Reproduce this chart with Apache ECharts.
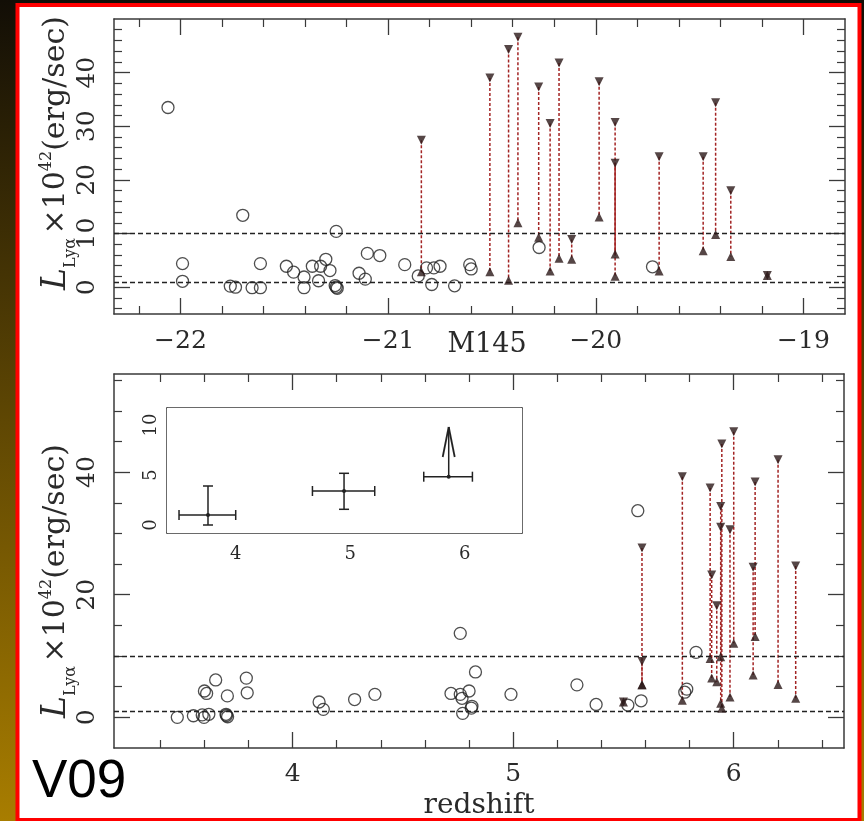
<!DOCTYPE html>
<html><head><meta charset="utf-8">
<script src="https://cdn.jsdelivr.net/npm/echarts@6/dist/echarts.min.js"></script>
<style>html,body{margin:0;padding:0;background:#000}#c{width:864px;height:821px}</style>
</head><body><div id="c"></div>
<script>
// ---------------- DATA ----------------
// Top panel: M145 vs L_Lya
const topCircles = [
  [-22.06,33.5],[-21.70,13.4],[-21.99,4.4],[-21.99,1.1],[-21.76,0.2],[-21.735,0.0],
  [-21.655,-0.1],[-21.615,-0.1],[-21.615,4.4],[-21.49,3.9],[-21.455,2.8],[-21.405,1.9],
  [-21.405,-0.1],[-21.365,3.9],[-21.325,3.9],[-21.30,5.2],[-21.28,3.1],[-21.335,1.2],
  [-21.255,0.3],[-21.25,0.0],[-21.245,-0.2],[-21.25,10.4],[-21.14,2.6],[-21.11,1.5],
  [-21.10,6.3],[-21.04,5.9],[-20.92,4.2],[-20.855,2.1],[-20.815,3.6],[-20.78,3.6],
  [-20.75,3.9],[-20.79,0.5],[-20.68,0.25],[-20.607,4.2],[-20.60,3.4],[-20.273,7.4],
  [-19.727,3.8]
];
// [M145, upper limit (down triangle), lower value (up triangle), solid?]
const topPairs = [
  [-20.84,27.4,2.9,0],[-20.51,39.0,2.9,0],[-20.42,44.3,1.3,0],[-20.375,46.6,12.0,0],
  [-20.275,37.3,9.3,0],[-20.22,30.5,3.0,0],[-20.177,41.8,5.4,0],[-20.116,8.9,5.2,0],
  [-19.984,38.3,13.1,0],[-19.907,30.7,2.05,0],[-19.907,23.1,6.2,1],[-19.695,24.3,3.0,0],
  [-19.483,24.3,6.8,0],[-19.423,34.4,9.8,0],[-19.35,18.0,5.7,0],[-19.174,2.2,2.2,0]
];
// Bottom panel: redshift vs L_Lya
const botCircles = [
  [3.477,0.0],[3.55,0.26],[3.59,0.4],[3.598,0.0],[3.62,0.5],[3.70,0.3],[3.705,0.1],[3.698,0.5],
  [3.60,4.3],[3.61,3.9],[3.651,6.1],[3.704,3.5],[3.79,6.4],[3.794,4.0],[4.12,2.5],[4.139,1.3],
  [4.281,2.9],[4.373,3.75],[4.76,13.7],[4.829,7.4],[4.718,3.9],[4.76,3.75],[4.768,3.1],[4.80,4.3],
  [4.771,0.65],[4.81,1.5],[4.813,1.8],[4.99,3.75],[5.289,5.3],[5.376,2.1],[5.52,2.0],[5.565,33.7],
  [5.58,2.7],[5.787,4.6],[5.778,4.1],[5.829,10.6]
];
const botPairs = [
  [5.584,27.6,5.3,0],[5.584,9.1,5.3,0],[5.767,39.25,2.8,0],[5.893,37.4,9.6,0],[5.90,23.2,6.4,0],
  [5.923,18.2,5.8,0],[5.946,44.6,1.5,0],[5.941,34.4,9.9,0],[5.941,31.0,2.3,0],[5.983,30.6,3.3,0],
  [6.0,46.6,12.1,0],[6.097,38.4,13.2,0],[6.088,24.5,6.9,0],[6.201,42.0,5.35,0],[6.281,24.7,3.1,0],
  [5.50,2.5,2.5,0]
];
// Inset: [z, L, zLow, zHigh, LLow, LHigh, isLowerLimitArrow]
const insetPoints = [
  [3.758,1.0,3.505,4.0,0.0,3.9,0],
  [4.946,3.4,4.67,5.214,1.57,5.17,0],
  [5.86,4.83,5.642,6.067,4.83,9.8,1]
];
const thresholds = [10, 1];

// ticks
const topXMajor = [-22,-21,-20,-19];
const topXMinor = [-22.2,-21.8,-21.6,-21.4,-21.2,-20.8,-20.6,-20.4,-20.2,-19.8,-19.6,-19.4,-19.2];
const topYMajor = [0,10,20,30,40];
const topYMinor = [-4,-2,2,4,6,8,12,14,16,18,22,24,26,28,32,34,36,38,42,44,46,48];
const botXMajor = [4,5,6];
const botXMinor = [3.4,3.6,3.8,4.2,4.4,4.6,4.8,5.2,5.4,5.6,5.8,6.2,6.4];
const botYMajor = [0,20,40];
const botYMinor = [5,10,15,25,30,35,45,50,55];
const insXMajor = [4,5,6];
const insXMinor = [3.6,3.8,4.2,4.4,4.6,4.8,5.2,5.4,5.6,5.8,6.2,6.4];
const insYMajor = [0,5,10];
const insYMinor = [1,2,3,4,6,7,8,9,11];

// ---------------- STYLE / BUILD ----------------
const AX = '#3a3a3a', TXT = '#2a2a2a', SERIF = 'DejaVu Serif';
const fmt = v => (v < 0 ? '\u2212' : '') + Math.abs(v);

function mkAxes(dir, grid, min, max, major, minor, o) {
  const sides = dir === 'x' ? ['bottom','top'] : ['left','right'];
  const out = [];
  sides.forEach((pos, i) => {
    const base = {type:'value', gridIndex:grid, min, max, position:pos, offset:0,
      splitLine:{show:false}, axisPointer:{show:false}, silent:true};
    out.push(Object.assign({}, base, {
      axisLine:{show:true, onZero:false, lineStyle:{color:AX, width:1.5}},
      axisTick:{show:true, inside:true, length:o.majLen, customValues:major, lineStyle:{color:AX, width:1.3}},
      axisLabel: i === 0 ? {show:true, customValues:major, formatter:fmt, fontSize:o.size,
        fontFamily:SERIF, color:TXT, margin:o.margin, rotate: dir === 'y' ? 90 : 0} : {show:false},
      name: (i === 0 && o.name) ? o.name : '', nameLocation:'middle', nameGap:o.nameGap || 0,
      nameMoveOverlap:false,
      nameTextStyle:{fontFamily:SERIF, fontSize:o.nameSize || 26, color:TXT, padding:o.namePad || 0}
    }));
    out.push(Object.assign({}, base, {
      axisLine:{show:false, onZero:false},
      axisTick:{show:true, inside:true, length:o.minLen, customValues:minor, lineStyle:{color:AX, width:1.2}},
      axisLabel:{show:false}
    }));
  });
  return out;
}

const xAxis = [].concat(
  mkAxes('x',0,-22.32,-18.8,topXMajor,topXMinor,{majLen:16,minLen:8,size:25,margin:15,name:'M145',nameGap:17,nameSize:27,namePad:[0,0,0,15]}),
  mkAxes('x',1,3.19,6.5,botXMajor,botXMinor,{majLen:16,minLen:8,size:25,margin:14,name:'redshift',nameGap:44,nameSize:28}),
  mkAxes('x',2,3.4,6.5,insXMajor,insXMinor,{majLen:12,minLen:6,size:18,margin:12})
);
const yAxis = [].concat(
  mkAxes('y',0,-5,50,topYMajor,topYMinor,{majLen:16,minLen:8,size:25,margin:14}),
  mkAxes('y',1,-5,56,botYMajor,botYMinor,{majLen:16,minLen:8,size:25,margin:14}),
  mkAxes('y',2,-0.8,11.7,insYMajor,insYMinor,{majLen:12,minLen:6,size:18,margin:7})
);

function circleSeries(gi, data) {
  return {type:'scatter', xAxisIndex:gi*4, yAxisIndex:gi*4, data, symbol:'circle', symbolSize:12,
    itemStyle:{color:'rgba(0,0,0,0)', borderColor:'#222', borderWidth:1.3}, silent:true, z:4,
    markLine:{silent:true, symbol:'none', label:{show:false}, animation:false,
      lineStyle:{color:'#222', type:[5,3], width:1.3},
      data: thresholds.map(t => ({yAxis:t}))}};
}
function pairSeries(gi, pairs) {
  return [
    {type:'custom', xAxisIndex:gi*4, yAxisIndex:gi*4, data:pairs, silent:true, z:3,
      encode:{x:0, y:[1,2]},
      renderItem:(params, api) => {
        const x = api.value(0);
        const a = api.coord([x, api.value(1)]), b = api.coord([x, api.value(2)]);
        return {type:'line', shape:{x1:a[0], y1:a[1], x2:b[0], y2:b[1]},
          style:{stroke:'#a32424', lineWidth:1.5, lineDash: api.value(3) ? null : [3,2]}};
      }},
    {type:'scatter', xAxisIndex:gi*4, yAxisIndex:gi*4, data:pairs.map(p => [p[0], p[1]]),
      symbol:'triangle', symbolRotate:180, symbolSize:9, itemStyle:{color:'#2b1818'}, silent:true, z:5},
    {type:'scatter', xAxisIndex:gi*4, yAxisIndex:gi*4, data:pairs.map(p => [p[0], p[2]]),
      symbol:'triangle', symbolSize:9, itemStyle:{color:'#2b1818'}, silent:true, z:5}
  ];
}

const insetSeries = {type:'custom', xAxisIndex:8, yAxisIndex:8, data:insetPoints, silent:true, z:6,
  encode:{x:[0,2,3], y:[1,4,5]},
  renderItem:(params, api) => {
    const x = api.value(0), y = api.value(1);
    const c = api.coord([x, y]);
    const xl = api.coord([api.value(2), y])[0], xh = api.coord([api.value(3), y])[0];
    const yl = api.coord([x, api.value(4)])[1], yh = api.coord([x, api.value(5)])[1];
    const st = {stroke:'#222', lineWidth:1.5};
    const L = (x1,y1,x2,y2,s) => ({type:'line', shape:{x1,y1,x2,y2}, style:s || st});
    const cap = 5;
    const ch = [
      L(xl,c[1],xh,c[1]), L(xl,c[1]-cap,xl,c[1]+cap), L(xh,c[1]-cap,xh,c[1]+cap),
      L(c[0],yl,c[0],yh),
      {type:'circle', shape:{cx:c[0], cy:c[1], r:2}, style:{fill:'#222'}}
    ];
    if (api.value(6)) {
      const s2 = {stroke:'#222', lineWidth:1.8};
      ch.push(L(c[0]-6, yh+30, c[0], yh, s2), L(c[0]+6, yh+30, c[0], yh, s2));
    } else {
      ch.push(L(c[0]-cap,yl,c[0]+cap,yl), L(c[0]-cap,yh,c[0]+cap,yh));
    }
    return {type:'group', children:ch};
  }};

const series = [
  circleSeries(0, topCircles), ...pairSeries(0, topPairs),
  circleSeries(1, botCircles), ...pairSeries(1, botPairs),
  insetSeries
];

const yTitleRich = {
  L:{fontFamily:SERIF, fontSize:33, fontStyle:'italic', lineHeight:46, verticalAlign:'middle', fill:TXT, color:TXT},
  s:{fontFamily:SERIF, fontSize:16, lineHeight:16, verticalAlign:'bottom', fill:TXT, color:TXT},
  m:{fontFamily:SERIF, fontSize:30, lineHeight:46, verticalAlign:'middle', fill:TXT, color:TXT},
  p:{fontFamily:SERIF, fontSize:16, lineHeight:16, verticalAlign:'top', padding:[6,0,0,0], fill:TXT, color:TXT}
};
const yTitleText = '{L|L}{s|Ly\u03b1} {m|\u00d710}{p|42}{m|(erg/sec)}';

const chart = echarts.init(document.getElementById('c'), null, {renderer:'canvas'});
chart.setOption({
  animation:false,
  backgroundColor: new echarts.graphic.LinearGradient(0,0,0,1,[{offset:0,color:'#120e06'},{offset:1,color:'#a87d00'}]),
  grid:[
    {left:114, top:19, width:731, height:295},
    {left:114, top:374, width:730, height:374},
    {left:167, top:408, width:355, height:125, show:true, backgroundColor:'#fff', borderWidth:0, z:5}
  ],
  xAxis, yAxis, series,
  graphic:[
    {type:'rect', z:-100, silent:true, shape:{x:17.5, y:5, width:842, height:815},
      style:{fill:'#fff', stroke:'#ff0000', lineWidth:4}},
    {type:'text', z:100, silent:true, x:56, y:153, rotation:Math.PI/2,
      style:{text:yTitleText, rich:yTitleRich, align:'center', verticalAlign:'middle', x:0, y:0}},
    {type:'text', z:100, silent:true, x:56, y:581, rotation:Math.PI/2,
      style:{text:yTitleText, rich:yTitleRich, align:'center', verticalAlign:'middle', x:0, y:0}},
    {type:'text', z:100, silent:true, x:32, y:782,
      style:{text:'V09', font:'53px "Liberation Sans"', fill:'#000', align:'left', verticalAlign:'middle'}}
  ]
});
</script></body></html>
